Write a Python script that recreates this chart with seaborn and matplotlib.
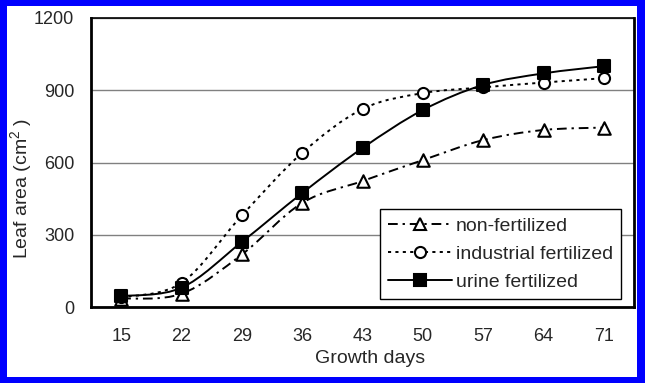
import numpy as np
import pandas as pd
import seaborn as sns
import matplotlib
matplotlib.use("Agg")
import matplotlib.pyplot as plt
from matplotlib.path import Path
from matplotlib.patches import PathPatch, Rectangle
from matplotlib.lines import Line2D

days = ["15", "22", "29", "36", "43", "50", "57", "64", "71"]
non_fertilized = [35, 55, 218, 432, 523, 610, 693, 735, 745]
industrial_fertilized = [40, 100, 380, 640, 822, 888, 912, 932, 950]
urine_fertilized = [45, 80, 270, 473, 660, 818, 922, 970, 1000]
series_names = ["non-fertilized", "industrial fertilized", "urine fertilized"]
y_ticks = [0, 300, 600, 900, 1200]

sns.set_style("white")
plt.rcParams["font.family"] = ["Liberation Sans", "DejaVu Sans"]
plt.rcParams["mathtext.fontset"] = "custom"
plt.rcParams["mathtext.rm"] = "Liberation Sans"
plt.rcParams["mathtext.it"] = "Liberation Sans"

fig = plt.figure(figsize=(6.45, 3.83), dpi=100)
fig.patch.set_facecolor("#0000FF")
# white inner panel inside blue frame
fig.patches.append(Rectangle((7 / 645, 6 / 383), (637 - 7) / 645, (377 - 6) / 383,
                             transform=fig.transFigure, facecolor="white",
                             edgecolor="none", zorder=-10))

ax = fig.add_axes([91 / 645, 1 - 307 / 383, (634 - 91) / 645, (307 - 18) / 383])
ax.set_zorder(5)
ax.set_facecolor("white")

pos = np.arange(len(days))
df = pd.DataFrame({"pos": np.tile(pos, 3),
                   "value": non_fertilized + industrial_fertilized + urine_fertilized,
                   "series": np.repeat(series_names, len(days))})


def smooth_path(x, y):
    pts = np.column_stack([x, y]).astype(float)
    n = len(pts)
    verts = [pts[0]]
    codes = [Path.MOVETO]
    for i in range(n - 1):
        p0 = pts[i - 1] if i > 0 else pts[i]
        p1 = pts[i]
        p2 = pts[i + 1]
        p3 = pts[i + 2] if i + 2 < n else pts[i + 1]
        c1 = p1 + (p2 - p0) / 6.0
        c2 = p2 - (p3 - p1) / 6.0
        verts += [c1, c2, p2]
        codes += [Path.CURVE4] * 3
    return Path(verts, codes)


styles = {
    "non-fertilized": dict(ls=(0, (5, 2.5, 1.2, 2.5)), marker="^", fc="white", ms=9),
    "industrial fertilized": dict(ls=(0, (1.6, 2.2)), marker="o", fc="white", ms=8),
    "urine fertilized": dict(ls="-", marker="s", fc="black", ms=8.5),
}
lw = 1.4

for name in series_names:
    sub = df[df["series"] == name]
    st = styles[name]
    patch = PathPatch(smooth_path(sub["pos"].values, sub["value"].values),
                      facecolor="none", edgecolor="black", lw=lw,
                      linestyle=st["ls"], zorder=3)
    ax.add_patch(patch)
    sns.scatterplot(x=sub["pos"], y=sub["value"], marker=st["marker"],
                    s=st["ms"] ** 2, color=st["fc"], edgecolor="black",
                    linewidth=1.5, ax=ax, zorder=4, legend=False)

ax.set_xlim(-0.5, len(days) - 0.5)
ax.set_ylim(0, 1200)
ax.set_yticks(y_ticks)
ax.set_yticklabels([str(v) for v in y_ticks], fontsize=13)
ax.set_xticks(np.arange(len(days) + 1) - 0.5)
ax.set_xticklabels([])
ax.set_xticks(pos, minor=True)
ax.set_xticklabels(days, minor=True, fontsize=13)
ax.tick_params(axis="x", which="minor", length=0, pad=15)
ax.tick_params(axis="x", which="major", direction="out", length=5, width=1.2, color="black")
ax.tick_params(axis="y", direction="out", length=5, width=1, color="#808080", pad=7)

ax.yaxis.grid(True, color="#808080", lw=1)
ax.xaxis.grid(False)
ax.set_axisbelow(True)
for side, w in [("left", 2), ("bottom", 2), ("top", 1.2), ("right", 2)]:
    ax.spines[side].set_visible(True)
    ax.spines[side].set_color("black")
    ax.spines[side].set_linewidth(w)

ax.set_xlabel("Growth days", fontsize=14)
ax.xaxis.set_label_coords((370 - 91) / 543, -(350 - 307) / 289)
ax.set_ylabel("Leaf area (cm$^{2}$ )", fontsize=14)
ax.yaxis.set_label_coords((34 - 91) / 543, (307 - 188) / 289)

handles = [Line2D([0], [0], color="black", lw=lw, linestyle=styles[n]["ls"],
                  marker=styles[n]["marker"], markerfacecolor=styles[n]["fc"],
                  markeredgecolor="black", markeredgewidth=1.5,
                  markersize=styles[n]["ms"]) for n in series_names]
leg = ax.legend(handles, series_names, loc="lower right",
                bbox_to_anchor=((621 - 91) / 543, (307 - 299) / 289),
                fontsize=14, frameon=True, fancybox=False, framealpha=1,
                edgecolor="black", handlelength=3.3, borderpad=0.4,
                labelspacing=0.55, handletextpad=0.2, borderaxespad=0)
leg.get_frame().set_linewidth(1)

fig.savefig("out.png", dpi=100, facecolor=fig.get_facecolor())
